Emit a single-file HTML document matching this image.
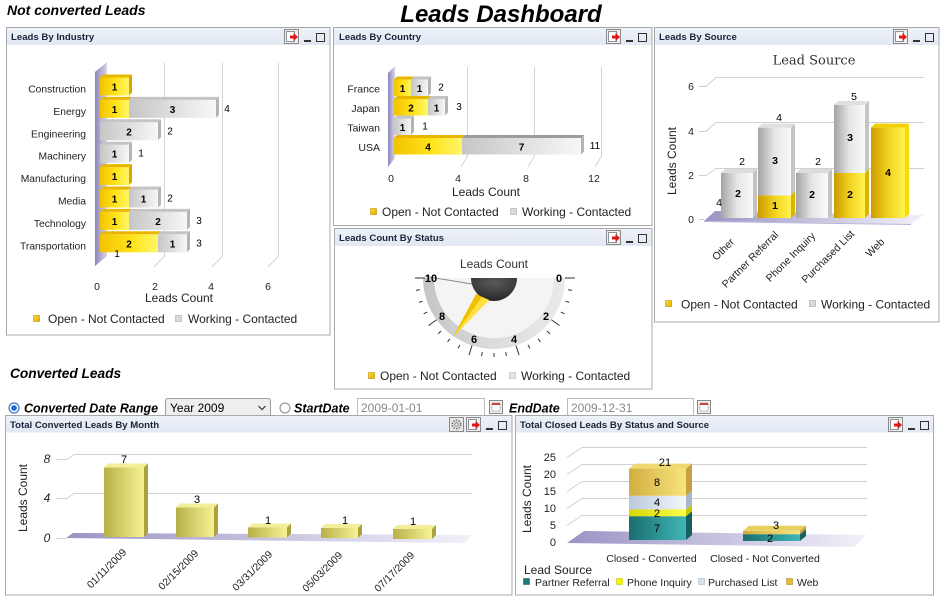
<!DOCTYPE html>
<html><head><meta charset="utf-8"><title>Leads Dashboard</title>
<style>
html,body{margin:0;padding:0;background:#fff;width:942px;height:598px;overflow:hidden}
svg{display:block;font-family:"Liberation Sans",Arial,sans-serif}
</style></head><body>
<svg width="942" height="598" viewBox="0 0 942 598" xmlns="http://www.w3.org/2000/svg">
<defs>
<linearGradient id="gy" x1="0" x2="1" y1="0" y2="0"><stop offset="0" stop-color="#f2c200"/><stop offset=".55" stop-color="#ffe41a"/><stop offset="1" stop-color="#fff56a"/></linearGradient>
<linearGradient id="gg" x1="0" x2="1" y1="0" y2="0"><stop offset="0" stop-color="#c6c6c6"/><stop offset="1" stop-color="#f7f7f7"/></linearGradient>
<linearGradient id="vy" x1="0" x2="1" y1="0" y2="0"><stop offset="0" stop-color="#cc9a00"/><stop offset=".5" stop-color="#f2d21e"/><stop offset="1" stop-color="#fff450"/></linearGradient>
<linearGradient id="vg" x1="0" x2="1" y1="0" y2="0"><stop offset="0" stop-color="#a4a4a4"/><stop offset=".5" stop-color="#e6e6e6"/><stop offset="1" stop-color="#fafafa"/></linearGradient>
<linearGradient id="wall" x1="0" x2="1" y1="0" y2="0"><stop offset="0" stop-color="#8c86b6"/><stop offset="1" stop-color="#d8d5ec"/></linearGradient>
<linearGradient id="floor" x1="0" x2="1" y1="0" y2="0"><stop offset="0" stop-color="#9a94c4"/><stop offset="1" stop-color="#f2f1f9"/></linearGradient>
<linearGradient id="ol" x1="0" x2="1" y1="0" y2="0"><stop offset="0" stop-color="#b8b048"/><stop offset="1" stop-color="#f7f394"/></linearGradient>
<linearGradient id="tl" x1="0" x2="1" y1="0" y2="0"><stop offset="0" stop-color="#1b6e6e"/><stop offset="1" stop-color="#3fb6b6"/></linearGradient>
<linearGradient id="ye" x1="0" x2="1" y1="0" y2="0"><stop offset="0" stop-color="#d6d600"/><stop offset="1" stop-color="#ffff4a"/></linearGradient>
<linearGradient id="lb" x1="0" x2="1" y1="0" y2="0"><stop offset="0" stop-color="#b9c9dc"/><stop offset="1" stop-color="#f5f8fc"/></linearGradient>
<linearGradient id="gd" x1="0" x2="1" y1="0" y2="0"><stop offset="0" stop-color="#d2ae40"/><stop offset="1" stop-color="#f8e47e"/></linearGradient>
<linearGradient id="hdr" x1="0" x2="0" y1="0" y2="1"><stop offset="0" stop-color="#eef2f9"/><stop offset="1" stop-color="#e1e8f3"/></linearGradient>
<linearGradient id="band" x1="0" x2="1" y1="0" y2="0"><stop offset="0" stop-color="#c4c4c4"/><stop offset=".5" stop-color="#dcdcdc"/><stop offset="1" stop-color="#eaeaea"/></linearGradient>
<radialGradient id="hub" cx=".5" cy=".2" r=".8"><stop offset="0" stop-color="#5a5a5a"/><stop offset="1" stop-color="#262626"/></radialGradient>
<linearGradient id="lgy" x1="0" x2="1" y1="0" y2="1"><stop offset="0" stop-color="#ffe030"/><stop offset="1" stop-color="#e0a800"/></linearGradient>
</defs>

<!-- Titles -->
<text x="7" y="15" font-size="14" font-weight="bold" font-style="italic" fill="#000">Not converted Leads</text>
<text x="501" y="22" font-size="24" font-weight="bold" font-style="italic" text-anchor="middle" fill="#000">Leads Dashboard</text>

<!-- ================= Panel 1: Leads By Industry ================= -->
<rect x="6.5" y="27.5" width="323.5" height="307.5" fill="#fff" stroke="#a8a8a8"/>
<rect x="7" y="28" width="322.5" height="17" fill="url(#hdr)"/>
<text x="11" y="40" font-size="9.6" font-weight="bold" fill="#1a2438">Leads By Industry</text>
<g transform="translate(330,27)">
 <rect x="-45.5" y="2.5" width="14" height="14" fill="#efefef" stroke="#8a8a8a"/>
 <rect x="-43.5" y="4.5" width="8" height="10" fill="#fff" stroke="#777" stroke-width=".8"/>
 <path d="M-40 8.5h3.5v-2.5l4.5 4-4.5 4v-2.5h-3.5z" fill="#e01818"/>
 <rect x="-26" y="13" width="7" height="2" fill="#333"/>
 <rect x="-13.5" y="6.5" width="8" height="8" fill="none" stroke="#333"/>
</g>
<g stroke="#d4d4d4" fill="none">
 <path d="M164.5 63V256L154 267"/>
 <path d="M222.5 63V256L212 267"/>
 <path d="M278.5 63V256L268 267"/>
</g>
<polygon points="95,72 107,62 107,256 95,266" fill="url(#wall)"/>
<g font-size="10" text-anchor="middle" fill="#000">
 <g transform="translate(0,77.5)">
  <rect x="100" y="0" width="29" height="18" fill="url(#gy)"/>
  <polygon points="100,0 103,-3 132,-3 129,0" fill="#e8b600"/>
  <polygon points="129,0 132,-3 132,15 129,18" fill="#d8a800"/>
  <text x="114.5" y="13" font-weight="bold">1</text>
 </g>
 <g transform="translate(0,99.9)">
  <rect x="100" y="0" width="29" height="18" fill="url(#gy)"/>
  <rect x="129" y="0" width="87" height="18" fill="url(#gg)"/>
  <polygon points="100,0 103,-3 132,-3 129,0" fill="#e8b600"/>
  <polygon points="129,0 132,-3 219,-3 216,0" fill="#c4c4c4"/>
  <polygon points="216,0 219,-3 219,15 216,18" fill="#b4b4b4"/>
  <text x="114.5" y="13" font-weight="bold">1</text>
  <text x="172.5" y="13" font-weight="bold">3</text>
  <text x="227" y="12">4</text>
 </g>
 <g transform="translate(0,122.3)">
  <rect x="100" y="0" width="58" height="18" fill="url(#gg)"/>
  <polygon points="100,0 103,-3 161,-3 158,0" fill="#c4c4c4"/>
  <polygon points="158,0 161,-3 161,15 158,18" fill="#b4b4b4"/>
  <text x="129" y="13" font-weight="bold">2</text>
  <text x="170" y="12">2</text>
 </g>
 <g transform="translate(0,144.7)">
  <rect x="100" y="0" width="29" height="18" fill="url(#gg)"/>
  <polygon points="100,0 103,-3 132,-3 129,0" fill="#c4c4c4"/>
  <polygon points="129,0 132,-3 132,15 129,18" fill="#b4b4b4"/>
  <text x="114.5" y="13" font-weight="bold">1</text>
  <text x="141" y="12">1</text>
 </g>
 <g transform="translate(0,167.1)">
  <rect x="100" y="0" width="29" height="18" fill="url(#gy)"/>
  <polygon points="100,0 103,-3 132,-3 129,0" fill="#e8b600"/>
  <polygon points="129,0 132,-3 132,15 129,18" fill="#d8a800"/>
  <text x="114.5" y="13" font-weight="bold">1</text>
 </g>
 <g transform="translate(0,189.5)">
  <rect x="100" y="0" width="29" height="18" fill="url(#gy)"/>
  <rect x="129" y="0" width="29" height="18" fill="url(#gg)"/>
  <polygon points="100,0 103,-3 132,-3 129,0" fill="#e8b600"/>
  <polygon points="129,0 132,-3 161,-3 158,0" fill="#c4c4c4"/>
  <polygon points="158,0 161,-3 161,15 158,18" fill="#b4b4b4"/>
  <text x="114.5" y="13" font-weight="bold">1</text>
  <text x="143.5" y="13" font-weight="bold">1</text>
  <text x="170" y="12">2</text>
 </g>
 <g transform="translate(0,211.9)">
  <rect x="100" y="0" width="29" height="18" fill="url(#gy)"/>
  <rect x="129" y="0" width="58" height="18" fill="url(#gg)"/>
  <polygon points="100,0 103,-3 132,-3 129,0" fill="#e8b600"/>
  <polygon points="129,0 132,-3 190,-3 187,0" fill="#c4c4c4"/>
  <polygon points="187,0 190,-3 190,15 187,18" fill="#b4b4b4"/>
  <text x="114.5" y="13" font-weight="bold">1</text>
  <text x="158" y="13" font-weight="bold">2</text>
  <text x="199" y="12">3</text>
 </g>
 <g transform="translate(0,234.3)">
  <rect x="100" y="0" width="58" height="18" fill="url(#gy)"/>
  <rect x="158" y="0" width="29" height="18" fill="url(#gg)"/>
  <polygon points="100,0 103,-3 161,-3 158,0" fill="#e8b600"/>
  <polygon points="158,0 161,-3 190,-3 187,0" fill="#c4c4c4"/>
  <polygon points="187,0 190,-3 190,15 187,18" fill="#b4b4b4"/>
  <text x="129" y="13" font-weight="bold">2</text>
  <text x="172.5" y="13" font-weight="bold">1</text>
  <text x="199" y="12">3</text>
 </g>
 <text x="117" y="257">1</text>
</g>
<g font-size="10.3" text-anchor="end" fill="#222">
 <text x="86" y="92.5">Construction</text>
 <text x="86" y="114.9">Energy</text>
 <text x="86" y="137.3">Engineering</text>
 <text x="86" y="159.7">Machinery</text>
 <text x="86" y="182.1">Manufacturing</text>
 <text x="86" y="204.5">Media</text>
 <text x="86" y="226.9">Technology</text>
 <text x="86" y="249.3">Transportation</text>
</g>
<g font-size="10.5" text-anchor="middle" fill="#222">
 <text x="97" y="290">0</text><text x="155" y="290">2</text><text x="211" y="290">4</text><text x="268" y="290">6</text>
</g>
<text x="179" y="302" font-size="12" text-anchor="middle" fill="#222">Leads Count</text>
<rect x="33.5" y="315.5" width="6" height="6" fill="url(#lgy)" stroke="#c09000" stroke-width=".6"/>
<text x="48" y="323" font-size="12" fill="#222">Open - Not Contacted</text>
<rect x="175.5" y="315.5" width="6" height="6" fill="#dadada" stroke="#aaa" stroke-width=".6"/>
<text x="188" y="323" font-size="12" fill="#222">Working - Contacted</text>

<!-- ================= Panel 2: Leads By Country ================= -->
<rect x="333.5" y="27.5" width="318.5" height="198" fill="#fff" stroke="#a8a8a8"/>
<rect x="334" y="28" width="317.5" height="17" fill="url(#hdr)"/>
<text x="339" y="40" font-size="9.6" font-weight="bold" fill="#1a2438">Leads By Country</text>
<g transform="translate(652,27)">
 <rect x="-45.5" y="2.5" width="14" height="14" fill="#efefef" stroke="#8a8a8a"/>
 <rect x="-43.5" y="4.5" width="8" height="10" fill="#fff" stroke="#777" stroke-width=".8"/>
 <path d="M-40 8.5h3.5v-2.5l4.5 4-4.5 4v-2.5h-3.5z" fill="#e01818"/>
 <rect x="-26" y="13" width="7" height="2" fill="#333"/>
 <rect x="-13.5" y="6.5" width="8" height="8" fill="none" stroke="#333"/>
</g>
<g stroke="#d4d4d4" fill="none">
 <path d="M467.5 67V156L461 167"/>
 <path d="M534.5 67V156L528 167"/>
 <path d="M601.5 67V156L595 167"/>
</g>
<polygon points="388,73 395,66 395,158 388,167" fill="url(#wall)"/>
<g font-size="10" text-anchor="middle" fill="#000">
 <g transform="translate(0,79.5)">
  <rect x="394" y="0" width="17" height="16.5" fill="url(#gy)"/>
  <rect x="411" y="0" width="17" height="16.5" fill="url(#gg)"/>
  <polygon points="394,0 397,-3 414,-3 411,0" fill="#e8b600"/>
  <polygon points="411,0 414,-3 431,-3 428,0" fill="#c4c4c4"/>
  <polygon points="428,0 431,-3 431,13.5 428,16.5" fill="#b4b4b4"/>
  <text x="402.5" y="12.5" font-weight="bold">1</text>
  <text x="419.5" y="12.5" font-weight="bold">1</text>
  <text x="441" y="11">2</text>
 </g>
 <g transform="translate(0,99)">
  <rect x="394" y="0" width="34" height="16.5" fill="url(#gy)"/>
  <rect x="428" y="0" width="17" height="16.5" fill="url(#gg)"/>
  <polygon points="394,0 397,-3 431,-3 428,0" fill="#e8b600"/>
  <polygon points="428,0 431,-3 448,-3 445,0" fill="#c4c4c4"/>
  <polygon points="445,0 448,-3 448,13.5 445,16.5" fill="#b4b4b4"/>
  <text x="411" y="12.5" font-weight="bold">2</text>
  <text x="436.5" y="12.5" font-weight="bold">1</text>
  <text x="459" y="11">3</text>
 </g>
 <g transform="translate(0,118.5)">
  <rect x="394" y="0" width="17" height="16.5" fill="url(#gg)"/>
  <polygon points="394,0 397,-3 414,-3 411,0" fill="#c4c4c4"/>
  <polygon points="411,0 414,-3 414,13.5 411,16.5" fill="#b4b4b4"/>
  <text x="402.5" y="12.5" font-weight="bold">1</text>
  <text x="425" y="11">1</text>
 </g>
 <g transform="translate(0,138)">
  <rect x="394" y="0" width="68" height="16.5" fill="url(#gy)"/>
  <rect x="462" y="0" width="119" height="16.5" fill="url(#gg)"/>
  <polygon points="394,0 397,-3 465,-3 462,0" fill="#e8b600"/>
  <polygon points="462,0 465,-3 584,-3 581,0" fill="#9c9c9c"/>
  <polygon points="581,0 584,-3 584,13.5 581,16.5" fill="#b4b4b4"/>
  <text x="428" y="12.5" font-weight="bold">4</text>
  <text x="521.5" y="12.5" font-weight="bold">7</text>
  <text x="595" y="11">11</text>
 </g>
</g>
<g font-size="10.5" text-anchor="end" fill="#222">
 <text x="380" y="92.5">France</text>
 <text x="380" y="112">Japan</text>
 <text x="380" y="131.5">Taiwan</text>
 <text x="380" y="151">USA</text>
</g>
<g font-size="10.5" text-anchor="middle" fill="#222">
 <text x="391" y="182">0</text><text x="458" y="182">4</text><text x="526" y="182">8</text><text x="594" y="182">12</text>
</g>
<text x="486" y="196" font-size="12" text-anchor="middle" fill="#222">Leads Count</text>
<rect x="370.5" y="208.5" width="6" height="6" fill="url(#lgy)" stroke="#c09000" stroke-width=".6"/>
<text x="382" y="216" font-size="12" fill="#222">Open - Not Contacted</text>
<rect x="510.5" y="208.5" width="6" height="6" fill="#dadada" stroke="#aaa" stroke-width=".6"/>
<text x="522" y="216" font-size="12" fill="#222">Working - Contacted</text>

<!-- ================= Panel 3: Leads By Source ================= -->
<rect x="654.5" y="27.5" width="284.5" height="294.5" fill="#fff" stroke="#a8a8a8"/>
<rect x="655" y="28" width="283.5" height="17" fill="url(#hdr)"/>
<text x="659" y="40" font-size="9.6" font-weight="bold" fill="#1a2438">Leads By Source</text>
<g transform="translate(939,27)">
 <rect x="-45.5" y="2.5" width="14" height="14" fill="#efefef" stroke="#8a8a8a"/>
 <rect x="-43.5" y="4.5" width="8" height="10" fill="#fff" stroke="#777" stroke-width=".8"/>
 <path d="M-40 8.5h3.5v-2.5l4.5 4-4.5 4v-2.5h-3.5z" fill="#e01818"/>
 <rect x="-26" y="13" width="7" height="2" fill="#333"/>
 <rect x="-13.5" y="6.5" width="8" height="8" fill="none" stroke="#333"/>
</g>
<text x="814" y="64.5" font-size="13" text-anchor="middle" fill="#333" font-family="'DejaVu Serif','Liberation Serif',serif">Lead Source</text>
<g fill="none" stroke-width="1">
 <path d="M699 86.5H706L716 77.5H924" stroke="#d0d0d0"/>
 <path d="M699 131.5H706L716 122.5H924" stroke="#d0d0d0"/>
 <path d="M699 175.5H706L716 168.5H924" stroke="#d0d0d0"/>
 <path d="M699 219.5H704" stroke="#d0d0d0"/>
</g>
<g font-size="10.5" text-anchor="end" fill="#222">
 <text x="694" y="90">6</text><text x="694" y="135">4</text><text x="694" y="179">2</text><text x="694" y="223">0</text>
</g>
<text transform="translate(676,161) rotate(-90)" font-size="12" text-anchor="middle" fill="#222">Leads Count</text>
<polygon points="704,221 715,211 924,215 911,224" fill="url(#floor)"/>
<line x1="704" y1="221.5" x2="911" y2="224.5" stroke="#b8b4d8"/>
<!-- Other -->
<rect x="721" y="173" width="32" height="45" fill="url(#vg)"/>
<polygon points="721,173 725,169 757,169 753,173" fill="#dcdcdc"/>
<polygon points="753,173 757,169 757,214 753,218" fill="#c2c2c2"/>
<!-- Partner Referral -->
<rect x="758" y="195.4" width="33" height="22.6" fill="url(#vy)"/>
<rect x="758" y="127.6" width="33" height="67.8" fill="url(#vg)"/>
<polygon points="758,127.6 762,123.6 795,123.6 791,127.6" fill="#e0e0e0"/>
<polygon points="791,127.6 795,123.6 795,191.4 791,195.4" fill="#c4c4c4"/>
<polygon points="791,195.4 795,191.4 795,214 791,218" fill="#dcb400"/>
<!-- Phone Inquiry -->
<rect x="796" y="173" width="32" height="45" fill="url(#vg)"/>
<polygon points="796,173 800,169 832,169 828,173" fill="#dcdcdc"/>
<polygon points="828,173 832,169 832,214 828,218" fill="#c2c2c2"/>
<!-- Purchased List -->
<rect x="834" y="173" width="31" height="45" fill="url(#vy)"/>
<rect x="834" y="105" width="31" height="68" fill="url(#vg)"/>
<polygon points="834,105 838,101 869,101 865,105" fill="#e0e0e0"/>
<polygon points="865,105 869,101 869,169 865,173" fill="#c4c4c4"/>
<polygon points="865,173 869,169 869,214 865,218" fill="#dcb400"/>
<!-- Web -->
<rect x="871" y="127.6" width="34" height="90.4" fill="url(#vy)"/>
<polygon points="871,127.6 875,123.6 909,123.6 905,127.6" fill="#f0d000"/>
<polygon points="905,127.6 909,123.6 909,214 905,218" fill="#f6dc00"/>
<g font-size="10.5" text-anchor="middle" fill="#000">
 <text x="738" y="197" font-weight="bold">2</text>
 <text x="775" y="164" font-weight="bold">3</text>
 <text x="775" y="209" font-weight="bold">1</text>
 <text x="812" y="198" font-weight="bold">2</text>
 <text x="850" y="141" font-weight="bold">3</text>
 <text x="850" y="198" font-weight="bold">2</text>
 <text x="888" y="176" font-weight="bold">4</text>
 <text x="742" y="165">2</text>
 <text x="779" y="121">4</text>
 <text x="818" y="165">2</text>
 <text x="854" y="100">5</text>
 <text x="719" y="206">4</text>
</g>
<g font-size="10.5" text-anchor="end" fill="#222">
 <text transform="translate(735,242.5) rotate(-45)">Other</text>
 <text transform="translate(779,235.5) rotate(-45)">Partner Referral</text>
 <text transform="translate(816,236.5) rotate(-45)">Phone Inquiry</text>
 <text transform="translate(855,234.5) rotate(-45)">Purchased List</text>
 <text transform="translate(885,242.5) rotate(-45)">Web</text>
</g>
<rect x="665.5" y="300.5" width="6" height="6" fill="url(#lgy)" stroke="#c09000" stroke-width=".6"/>
<text x="681" y="308.5" font-size="12" fill="#222">Open - Not Contacted</text>
<rect x="809.5" y="300.5" width="6" height="6" fill="#dadada" stroke="#aaa" stroke-width=".6"/>
<text x="821" y="308.5" font-size="12" fill="#222">Working - Contacted</text>

<!-- ================= Panel 4: Leads Count By Status ================= -->
<rect x="334.5" y="228.5" width="317.5" height="160.5" fill="#fff" stroke="#a8a8a8"/>
<rect x="335" y="229" width="316.5" height="17" fill="url(#hdr)"/>
<text x="339" y="241" font-size="9.6" font-weight="bold" fill="#1a2438">Leads Count By Status</text>
<g transform="translate(652,228)">
 <rect x="-45.5" y="2.5" width="14" height="14" fill="#efefef" stroke="#8a8a8a"/>
 <rect x="-43.5" y="4.5" width="8" height="10" fill="#fff" stroke="#777" stroke-width=".8"/>
 <path d="M-40 8.5h3.5v-2.5l4.5 4-4.5 4v-2.5h-3.5z" fill="#e01818"/>
 <rect x="-26" y="13" width="7" height="2" fill="#333"/>
 <rect x="-13.5" y="6.5" width="8" height="8" fill="none" stroke="#333"/>
</g>
<text x="494" y="268" font-size="12" text-anchor="middle" fill="#333">Leads Count</text>
<path d="M423 278A71 71 0 0 0 565 278L554 278A60 60 0 0 1 434 278Z" fill="url(#band)"/>
<path d="M434 278A60 60 0 0 0 554 278Z" fill="#f4f4f4"/>
<g transform="translate(494,278)" stroke="#333" stroke-width="1">
 <line x1="75" y1="0" x2="79" y2="0" transform="rotate(9)"/>
 <line x1="75" y1="0" x2="79" y2="0" transform="rotate(18)"/>
 <line x1="75" y1="0" x2="79" y2="0" transform="rotate(27)"/>
 <line x1="75" y1="0" x2="79" y2="0" transform="rotate(45)"/>
 <line x1="75" y1="0" x2="79" y2="0" transform="rotate(54)"/>
 <line x1="75" y1="0" x2="79" y2="0" transform="rotate(63)"/>
 <line x1="75" y1="0" x2="79" y2="0" transform="rotate(81)"/>
 <line x1="75" y1="0" x2="79" y2="0" transform="rotate(90)"/>
 <line x1="75" y1="0" x2="79" y2="0" transform="rotate(99)"/>
 <line x1="75" y1="0" x2="79" y2="0" transform="rotate(117)"/>
 <line x1="75" y1="0" x2="79" y2="0" transform="rotate(126)"/>
 <line x1="75" y1="0" x2="79" y2="0" transform="rotate(135)"/>
 <line x1="75" y1="0" x2="79" y2="0" transform="rotate(153)"/>
 <line x1="75" y1="0" x2="79" y2="0" transform="rotate(162)"/>
 <line x1="75" y1="0" x2="79" y2="0" transform="rotate(171)"/>
 <line x1="71" y1="0" x2="81" y2="0" transform="rotate(0)"/>
 <line x1="71" y1="0" x2="81" y2="0" transform="rotate(36)"/>
 <line x1="71" y1="0" x2="81" y2="0" transform="rotate(72)"/>
 <line x1="71" y1="0" x2="81" y2="0" transform="rotate(108)"/>
 <line x1="71" y1="0" x2="81" y2="0" transform="rotate(144)"/>
 <line x1="69" y1="0" x2="79" y2="0" transform="rotate(180)"/>
</g>
<line x1="472" y1="284" x2="426" y2="276.5" stroke="#8a8a8a" stroke-width="1"/>
<path d="M471 278A23 23 0 0 0 517 278Z" fill="url(#hub)"/>
<polygon points="476,294 489,300 453,337" fill="#f2c000"/>
<polygon points="482,297 489,300 453,337" fill="#ffe040"/>
<g font-size="11" font-weight="bold" text-anchor="middle" fill="#000">
 <text x="559" y="282">0</text>
 <text x="546" y="320">2</text>
 <text x="514" y="343">4</text>
 <text x="474" y="343">6</text>
 <text x="442" y="320">8</text>
 <text x="431" y="282">10</text>
</g>
<rect x="368.5" y="372.5" width="6" height="6" fill="url(#lgy)" stroke="#c09000" stroke-width=".6"/>
<text x="380" y="380" font-size="12" fill="#222">Open - Not Contacted</text>
<rect x="509.5" y="372.5" width="6" height="6" fill="#e4e4e4" stroke="#bbb" stroke-width=".6"/>
<text x="521" y="380" font-size="12" fill="#222">Working - Contacted</text>

<!-- ================= Converted section ================= -->
<text x="10" y="378" font-size="13.7" font-weight="bold" font-style="italic" fill="#000">Converted Leads</text>
<circle cx="14" cy="408" r="5" fill="#fff" stroke="#3a78d0" stroke-width="1.2"/>
<circle cx="14" cy="408" r="2.8" fill="#1f68d0"/>
<text x="24" y="412.5" font-size="12.5" font-weight="bold" font-style="italic" fill="#000">Converted Date Range</text>
<rect x="165.5" y="398.5" width="105" height="18" rx="2" fill="#eeeeee" stroke="#a0a0a0"/>
<text x="170" y="412" font-size="12" fill="#000">Year 2009</text>
<path d="M258.5 406l3.5 3.5 3.5-3.5" fill="none" stroke="#333" stroke-width="1.2"/>
<circle cx="285" cy="408" r="5" fill="#fff" stroke="#8a8a8a" stroke-width="1"/>
<text x="294" y="412.5" font-size="12.5" font-weight="bold" font-style="italic" fill="#000">StartDate</text>
<rect x="357.5" y="398.5" width="127" height="18" fill="#fff" stroke="#bcbcbc"/>
<text x="361" y="412" font-size="12" fill="#8a8a8a">2009-01-01</text>
<rect x="489.5" y="400.5" width="13" height="13" fill="#eee" stroke="#8a8a8a"/>
<rect x="492" y="403" width="8" height="8" fill="#fff" stroke="#999" stroke-width=".6"/>
<rect x="492" y="403" width="8" height="2" fill="#d04040"/>
<text x="509" y="412.5" font-size="12.5" font-weight="bold" font-style="italic" fill="#000">EndDate</text>
<rect x="567.5" y="398.5" width="126" height="18" fill="#fff" stroke="#bcbcbc"/>
<text x="571" y="412" font-size="12" fill="#8a8a8a">2009-12-31</text>
<rect x="697.5" y="400.5" width="13" height="13" fill="#eee" stroke="#8a8a8a"/>
<rect x="700" y="403" width="8" height="8" fill="#fff" stroke="#999" stroke-width=".6"/>
<rect x="700" y="403" width="8" height="2" fill="#d04040"/>

<!-- ================= Panel 5: Total Converted Leads By Month ================= -->
<rect x="5.5" y="415.5" width="506.5" height="179.5" fill="#fff" stroke="#a8a8a8"/>
<rect x="6" y="416" width="505.5" height="16.5" fill="url(#hdr)"/>
<text x="10" y="428" font-size="9.6" font-weight="bold" fill="#1a2438">Total Converted Leads By Month</text>
<g transform="translate(512,415)">
 <rect x="-62.5" y="2.5" width="14" height="14" fill="#e6e6e6" stroke="#8a8a8a"/>
 <circle cx="-55.5" cy="9.5" r="4.2" fill="none" stroke="#777" stroke-width="1.6" stroke-dasharray="1.6 1.1"/>
 <circle cx="-55.5" cy="9.5" r="1.8" fill="none" stroke="#777" stroke-width=".8"/>
 <rect x="-45.5" y="2.5" width="14" height="14" fill="#efefef" stroke="#8a8a8a"/>
 <rect x="-43.5" y="4.5" width="8" height="10" fill="#fff" stroke="#777" stroke-width=".8"/>
 <path d="M-40 8.5h3.5v-2.5l4.5 4-4.5 4v-2.5h-3.5z" fill="#e01818"/>
 <rect x="-26" y="13" width="7" height="2" fill="#333"/>
 <rect x="-13.5" y="6.5" width="8" height="8" fill="none" stroke="#333"/>
</g>
<g fill="none" stroke="#d0d0d0">
 <path d="M56 459.5H67L74 454.5H472"/>
 <path d="M56 498.5H67L74 493.5H472"/>
 <path d="M56 538.5H66"/>
</g>
<g font-size="12" font-style="italic" text-anchor="middle" fill="#222">
 <text x="47" y="463">8</text><text x="47" y="502">4</text><text x="47" y="542">0</text>
</g>
<text transform="translate(27,498) rotate(-90)" font-size="12" text-anchor="middle" fill="#222">Leads Count</text>
<polygon points="66,538 73,533 472,535 465,543" fill="url(#floor)"/>
<rect x="104" y="467.5" width="40" height="69.5" fill="url(#ol)"/>
<polygon points="104,467.5 108,463.5 148,463.5 144,467.5" fill="#f2ee9a"/>
<polygon points="144,467.5 148,463.5 148,533 144,537" fill="#aaa23e"/>
<rect x="176" y="507.5" width="38" height="29.5" fill="url(#ol)"/>
<polygon points="176,507.5 180,503.5 218,503.5 214,507.5" fill="#f2ee9a"/>
<polygon points="214,507.5 218,503.5 218,533 214,537" fill="#aaa23e"/>
<rect x="248" y="527.5" width="39" height="10" fill="url(#ol)"/>
<polygon points="248,527.5 252,523.5 291,523.5 287,527.5" fill="#f2ee9a"/>
<polygon points="287,527.5 291,523.5 291,533.5 287,537.5" fill="#aaa23e"/>
<rect x="321" y="528" width="37" height="10" fill="url(#ol)"/>
<polygon points="321,528 325,524 362,524 358,528" fill="#f2ee9a"/>
<polygon points="358,528 362,524 362,534 358,538" fill="#aaa23e"/>
<rect x="393" y="529" width="39" height="10" fill="url(#ol)"/>
<polygon points="393,529 397,525 436,525 432,529" fill="#f2ee9a"/>
<polygon points="432,529 436,525 436,535 432,539" fill="#aaa23e"/>
<g font-size="11" text-anchor="middle" fill="#000">
 <text x="124" y="463">7</text>
 <text x="197" y="503">3</text>
 <text x="268" y="524">1</text>
 <text x="345" y="524">1</text>
 <text x="413" y="525">1</text>
</g>
<g font-size="10.3" text-anchor="end" fill="#222">
 <text transform="translate(127,553) rotate(-45)">01/11/2009</text>
 <text transform="translate(199,554) rotate(-45)">02/15/2009</text>
 <text transform="translate(273,555) rotate(-45)">03/31/2009</text>
 <text transform="translate(343,556) rotate(-45)">05/03/2009</text>
 <text transform="translate(415,556) rotate(-45)">07/17/2009</text>
</g>

<!-- ================= Panel 6: Total Closed Leads By Status and Source ================= -->
<rect x="515.5" y="415.5" width="418" height="179.5" fill="#fff" stroke="#a8a8a8"/>
<rect x="516" y="416" width="417" height="16.5" fill="url(#hdr)"/>
<text x="520" y="428" font-size="9.6" font-weight="bold" fill="#1a2438">Total Closed Leads By Status and Source</text>
<g transform="translate(934,415)">
 <rect x="-45.5" y="2.5" width="14" height="14" fill="#efefef" stroke="#8a8a8a"/>
 <rect x="-43.5" y="4.5" width="8" height="10" fill="#fff" stroke="#777" stroke-width=".8"/>
 <path d="M-40 8.5h3.5v-2.5l4.5 4-4.5 4v-2.5h-3.5z" fill="#e01818"/>
 <rect x="-26" y="13" width="7" height="2" fill="#333"/>
 <rect x="-13.5" y="6.5" width="8" height="8" fill="none" stroke="#333"/>
</g>
<g fill="none" stroke="#d0d0d0">
 <path d="M567 457.5L582 447.5H867"/>
 <path d="M567 474.5L582 464.5H867"/>
 <path d="M567 491.5L582 481.5H867"/>
 <path d="M567 508.5L582 498.5H867"/>
 <path d="M567 525.5L582 515.5H867"/>
</g>
<g font-size="11" text-anchor="end" fill="#222">
 <text x="556" y="461">25</text><text x="556" y="478">20</text><text x="556" y="495">15</text>
 <text x="556" y="512">10</text><text x="556" y="529">5</text><text x="556" y="546">0</text>
</g>
<text transform="translate(531,499) rotate(-90)" font-size="12" text-anchor="middle" fill="#222">Leads Count</text>
<polygon points="567,543 584,531 867,535 854,547" fill="url(#floor)"/>
<!-- Closed - Converted -->
<rect x="629" y="516.2" width="57" height="23.8" fill="url(#tl)"/>
<rect x="629" y="509.4" width="57" height="6.8" fill="url(#ye)"/>
<rect x="629" y="495.8" width="57" height="13.6" fill="url(#lb)"/>
<rect x="629" y="468.6" width="57" height="27.2" fill="url(#gd)"/>
<polygon points="629,468.6 635,463.6 692,463.6 686,468.6" fill="#efd870"/>
<polygon points="686,516.2 692,511.2 692,535 686,540" fill="#17605f"/>
<polygon points="686,509.4 692,504.4 692,511.2 686,516.2" fill="#c8c800"/>
<polygon points="686,495.8 692,490.8 692,504.4 686,509.4" fill="#a8b8cc"/>
<polygon points="686,468.6 692,463.6 692,490.8 686,495.8" fill="#c8a040"/>
<!-- Closed - Not Converted -->
<rect x="743" y="534.2" width="57" height="6.8" fill="url(#tl)"/>
<rect x="743" y="530.8" width="57" height="3.4" fill="url(#gd)"/>
<polygon points="743,530.8 749,525.8 806,525.8 800,530.8" fill="#e8d060"/>
<polygon points="800,534.2 806,529.2 806,536 800,541" fill="#17605f"/>
<polygon points="800,530.8 806,525.8 806,529.2 800,534.2" fill="#c8a040"/>
<g font-size="11" text-anchor="middle" fill="#000">
 <text x="657" y="532">7</text>
 <text x="657" y="517">2</text>
 <text x="657" y="506">4</text>
 <text x="657" y="486">8</text>
 <text x="665" y="466">21</text>
 <text x="770" y="542">2</text>
 <text x="776" y="529">3</text>
</g>
<g font-size="10.5" text-anchor="middle" fill="#222">
 <text x="651.5" y="562">Closed - Converted</text>
 <text x="765" y="562">Closed - Not Converted</text>
</g>
<text x="524" y="574" font-size="12" fill="#222">Lead Source</text>
<rect x="523.5" y="578.5" width="6" height="6" fill="#1f7a7a" stroke="#155" stroke-width=".5"/>
<text x="535" y="586" font-size="10.5" fill="#222">Partner Referral</text>
<rect x="616.5" y="578.5" width="6" height="6" fill="#f4f400" stroke="#bb0" stroke-width=".5"/>
<text x="627" y="586" font-size="10.5" fill="#222">Phone Inquiry</text>
<rect x="698.5" y="578.5" width="6" height="6" fill="#d6e0ec" stroke="#aab" stroke-width=".5"/>
<text x="708" y="586" font-size="10.5" fill="#222">Purchased List</text>
<rect x="786.5" y="578.5" width="6" height="6" fill="#dcbc48" stroke="#a80" stroke-width=".5"/>
<text x="797" y="586" font-size="10.5" fill="#222">Web</text>
</svg>
</body></html>
